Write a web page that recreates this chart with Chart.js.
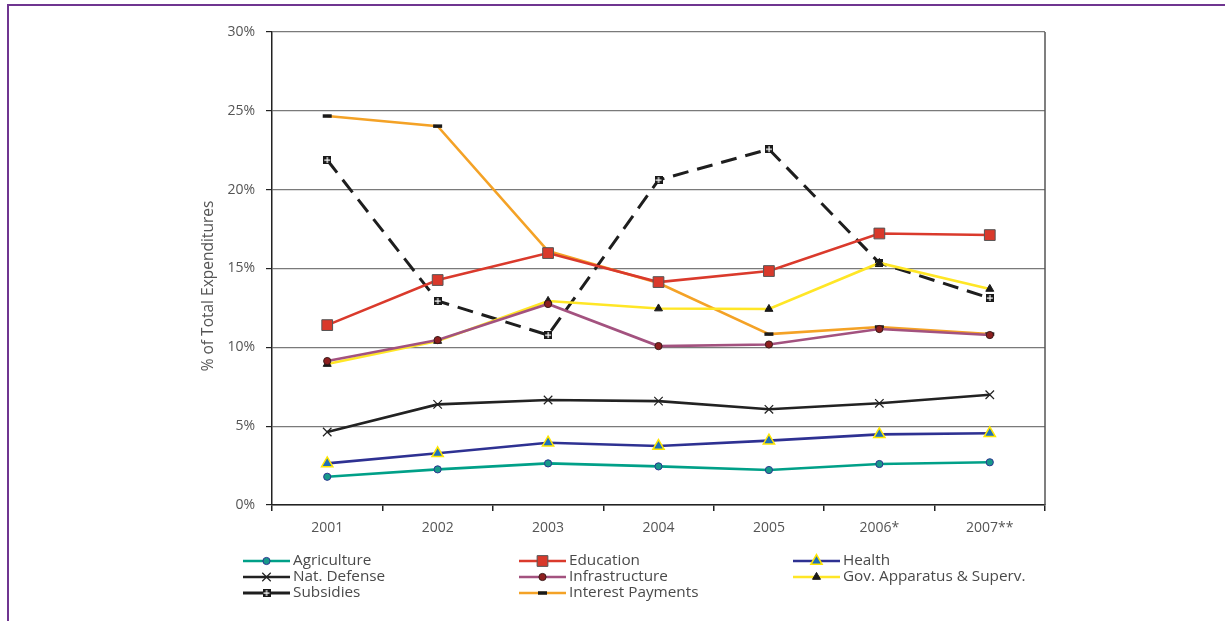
<!DOCTYPE html>
<html>
<head>
<meta charset="utf-8">
<script src="https://cdn.jsdelivr.net/npm/chart.js@4.4.1/dist/chart.umd.min.js"></script>
<style>
  html,body{margin:0;padding:0;background:#fff}
  #wrap{position:relative;width:1225px;height:621px;overflow:hidden}
  #frame{position:absolute;left:7px;top:4px;right:0;bottom:0;border-top:2px solid #6f3590;border-left:2px solid #6f3590}
  canvas{position:absolute;left:0;top:0}
</style>
</head>
<body>
<div id="wrap">
  <div id="frame"></div>
  <canvas id="c" width="1225" height="621"></canvas>
</div>
<script>
// share of total expenditures, percent
const years = ['2001','2002','2003','2004','2005','2006*','2007**'];
const agriculture    = [1.79, 2.26, 2.64, 2.45, 2.22, 2.60, 2.71];
const education      = [11.41, 14.27, 15.98, 14.14, 14.84, 17.22, 17.12];
const health         = [2.64, 3.28, 3.95, 3.74, 4.08, 4.48, 4.55];
const natDefense     = [4.63, 6.38, 6.66, 6.59, 6.07, 6.45, 6.99];
const infrastructure = [9.13, 10.46, 12.75, 10.08, 10.18, 11.16, 10.78];
const govApparatus   = [8.94, 10.40, 12.94, 12.46, 12.43, 15.35, 13.70];
const subsidies      = [21.88, 12.94, 10.78, 20.61, 22.57, 15.35, 13.13];
const interest       = [24.67, 24.03, 16.11, 14.08, 10.84, 11.29, 10.84];
const yTicks = [0, 5, 10, 15, 20, 25, 30];
const yTitle = '% of Total Expenditures';

// black square split by a white cross
function crossSquare() {
  const cv = document.createElement('canvas'); cv.width = 8; cv.height = 8;
  const g = cv.getContext('2d');
  g.fillStyle = '#1a1a1a'; g.fillRect(0, 0, 8, 8);
  g.fillStyle = '#fff'; g.fillRect(3.5, 1, 1.2, 6); g.fillRect(1, 3.5, 6, 1.2);
  return cv;
}

function series(label, data, color, pt) {
  return Object.assign({
    label, data, borderColor: color, backgroundColor: color,
    borderWidth: 2.6, tension: 0, fill: false, pointBorderWidth: 1
  }, pt);
}

const datasets = [
  series('Agriculture', agriculture, '#00a088', {pointStyle:'circle', pointRadius:3.6, pointBackgroundColor:'#17998a', pointBorderColor:'#2b3590'}),
  series('Education', education, '#da3a2c', {pointStyle:'rect', pointRadius:7.6, pointBackgroundColor:'#d9392b', pointBorderColor:'#555'}),
  series('Health', health, '#2e3192', {pointStyle:'triangle', pointRadius:6.5, pointBackgroundColor:'#1f70b8', pointBorderColor:'#ffe600', pointBorderWidth:1.5}),
  series('Nat. Defense', natDefense, '#222', {pointStyle:'crossRot', pointRadius:6, pointBorderColor:'#222', pointBorderWidth:1.2}),
  series('Infrastructure', infrastructure, '#a3527f', {pointStyle:'circle', pointRadius:3.6, pointBackgroundColor:'#8e1f1f', pointBorderColor:'#3a1a1a'}),
  series('Gov. Apparatus & Superv.', govApparatus, '#ffe626', {pointStyle:'triangle', pointRadius:4.6, pointBackgroundColor:'#1a1a1a', pointBorderColor:'#1a1a1a'}),
  series('Subsidies', subsidies, '#1e1e1e', {borderDash:[16, 9], borderWidth:3, pointStyle:crossSquare(), pointRadius:4}),
  series('Interest Payments', interest, '#f4a226', {pointStyle:'line', pointRadius:4.5, pointBorderColor:'#1a1a1a', pointBorderWidth:3.5})
];

const legendCols = [243, 519, 793];
const legendRows = [561, 577, 593];

// y title, three-column legend under the axis, right-hand frame line
const extras = {
  id: 'extras',
  afterDraw(chart) {
    const ctx = chart.ctx, a = chart.chartArea;
    ctx.save();
    ctx.strokeStyle = '#555'; ctx.lineWidth = 1.5;
    ctx.beginPath(); ctx.moveTo(a.right, a.top); ctx.lineTo(a.right, a.bottom); ctx.stroke();

    ctx.save();
    ctx.translate(209, 286);
    ctx.rotate(-Math.PI / 2);
    ctx.font = '15.5px "Open Sans", sans-serif';
    ctx.fillStyle = '#555';
    ctx.textAlign = 'center'; ctx.textBaseline = 'middle';
    ctx.fillText(yTitle, 0, 0);
    ctx.restore();

    ctx.font = '15.3px "Open Sans", sans-serif';
    ctx.textBaseline = 'middle';
    chart.data.datasets.forEach((ds, i) => {
      const x = legendCols[i % 3], y = legendRows[Math.floor(i / 3)];
      const len = 47;
      ctx.save();
      ctx.strokeStyle = ds.borderColor; ctx.lineWidth = ds.borderWidth;
      ctx.beginPath(); ctx.moveTo(x, y); ctx.lineTo(x + len, y); ctx.stroke();
      ctx.restore();
      ctx.save();
      ctx.fillStyle = ds.pointBackgroundColor || ds.backgroundColor;
      ctx.strokeStyle = ds.pointBorderColor || ds.borderColor;
      ctx.lineWidth = ds.pointBorderWidth;
      Chart.helpers.drawPoint(ctx, {pointStyle: ds.pointStyle, radius: ds.pointRadius, rotation: 0, borderWidth: ds.pointBorderWidth}, x + len / 2, y);
      ctx.restore();
      ctx.fillStyle = '#4a4a4a';
      ctx.fillText(ds.label, x + len + 3, y);
    });
    ctx.restore();
  }
};

new Chart(document.getElementById('c'), {
  type: 'line',
  data: { labels: years, datasets },
  plugins: [extras],
  options: {
    responsive: false,
    animation: false,
    layout: { padding: { left: 197, right: 180, top: 32, bottom: 71 } },
    plugins: { legend: { display: false }, tooltip: { enabled: false } },
    scales: {
      x: {
        offset: true,
        afterFit(s) { s.height = 45; },
        border: { color: '#222', width: 1.5 },
        grid: { offset: true, drawOnChartArea: false, drawTicks: true, tickLength: 6, tickColor: '#222', lineWidth: 1.5 },
        ticks: { color: '#555', padding: 9, font: { family: 'Open Sans', size: 14 } }
      },
      y: {
        min: 0, max: 30,
        afterFit(s) { s.width = 75; },
        afterBuildTicks(s) { s.ticks = yTicks.map(v => ({ value: v })); },
        border: { color: '#222', width: 1.5 },
        grid: { color: '#7a7a7a', lineWidth: 1.2, tickLength: 6, tickColor: '#222' },
        ticks: { color: '#555', padding: 11, font: { family: 'Open Sans', size: 14 }, callback: v => v + '%' }
      }
    }
  }
});
</script>
</body>
</html>
